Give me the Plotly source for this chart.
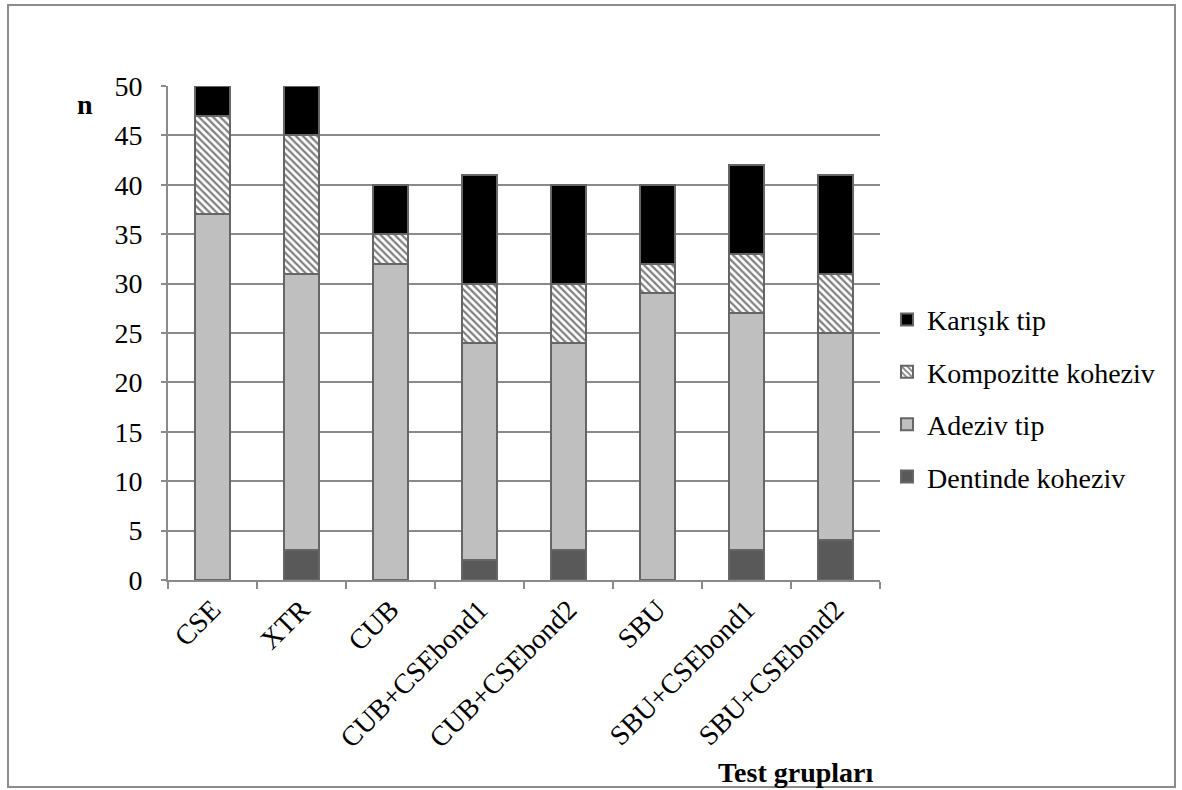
import plotly.graph_objects as go

groups = ["CSE", "XTR", "CUB", "CUB+CSEbond1", "CUB+CSEbond2", "SBU", "SBU+CSEbond1", "SBU+CSEbond2"]
dentinde = [0, 3, 0, 2, 3, 0, 3, 4]
adeziv = [37, 28, 32, 22, 21, 29, 24, 21]
kompozitte = [10, 14, 3, 6, 6, 3, 6, 6]
karisik = [3, 5, 5, 11, 10, 8, 9, 10]
y_ticks = [0, 5, 10, 15, 20, 25, 30, 35, 40, 45, 50]

FONT = "Liberation Serif"
OUT = "#666666"
AX = "#8a8a8a"
FS = 28

fig = go.Figure()
fig.add_trace(go.Bar(x=groups, y=dentinde, name="Dentinde koheziv", legendgroup="a",
                     legendrank=4,
                     marker=dict(color="#595959", line=dict(color=OUT, width=2))))
fig.add_trace(go.Bar(x=groups, y=adeziv, name="Adeziv tip", legendgroup="b",
                     legendrank=3,
                     marker=dict(color="#bfbfbf", line=dict(color=OUT, width=2))))
fig.add_trace(go.Bar(x=groups, y=kompozitte, name="Kompozitte koheziv", legendgroup="c",
                     legendrank=2,
                     marker=dict(color="white", line=dict(color=OUT, width=2),
                                 pattern=dict(shape="\\", fgcolor="black", bgcolor="white",
                                              size=5, solidity=0.45))))
fig.add_trace(go.Bar(x=groups, y=karisik, name="Karışık tip", legendgroup="d",
                     legendrank=1,
                     marker=dict(color="black", line=dict(color=OUT, width=2))))

fig.update_layout(
    barmode="stack",
    bargap=0.6,
    width=1182, height=790,
    margin=dict(l=168, r=302, t=86, b=210),
    paper_bgcolor="white", plot_bgcolor="white",
    font=dict(family=FONT, size=FS, color="black"),
    showlegend=True,
    legend=dict(x=1.0098, xanchor="left", y=0.368, yanchor="middle",
                traceorder="grouped", tracegroupgap=13,
                font=dict(family=FONT, size=FS, color="black"),
                itemwidth=30, bgcolor="rgba(0,0,0,0)"),
    xaxis=dict(type="category", tickson="boundaries", ticks="outside", ticklen=7,
               tickcolor=AX, tickwidth=2, showline=True, linecolor=AX,
               linewidth=2, showgrid=False, tickangle=-45,
               tickfont=dict(family=FONT, size=FS, color="black")),
    yaxis=dict(range=[0, 50], tickvals=y_ticks, ticks="outside", ticklen=5,
               tickcolor=AX, tickwidth=2, showline=True, linecolor=AX,
               linewidth=2, showgrid=True, gridcolor=AX, gridwidth=1.5,
               zeroline=False, ticklabelstandoff=13,
               tickfont=dict(family=FONT, size=FS, color="black")),
    annotations=[
        dict(text="<b>n</b>", xref="paper", yref="paper", x=-0.1166, y=0.962,
             xanchor="center", yanchor="middle",
             showarrow=False, font=dict(family=FONT, size=FS)),
        dict(text="<b>Test grupları</b>", xref="paper", yref="paper", x=0.882, y=-0.389,
             xanchor="center", yanchor="middle",
             showarrow=False, font=dict(family=FONT, size=FS)),
    ],
    shapes=[dict(type="rect", xref="paper", yref="paper",
                 x0=-0.2247, x1=1.4143, y0=-0.419, y1=1.164,
                 line=dict(color="#8c8c8c", width=2))],
)

fig.write_html("out.html", config={"displayModeBar": False},
               post_script="document.body.style.margin='0px';document.body.style.overflow='hidden';")
